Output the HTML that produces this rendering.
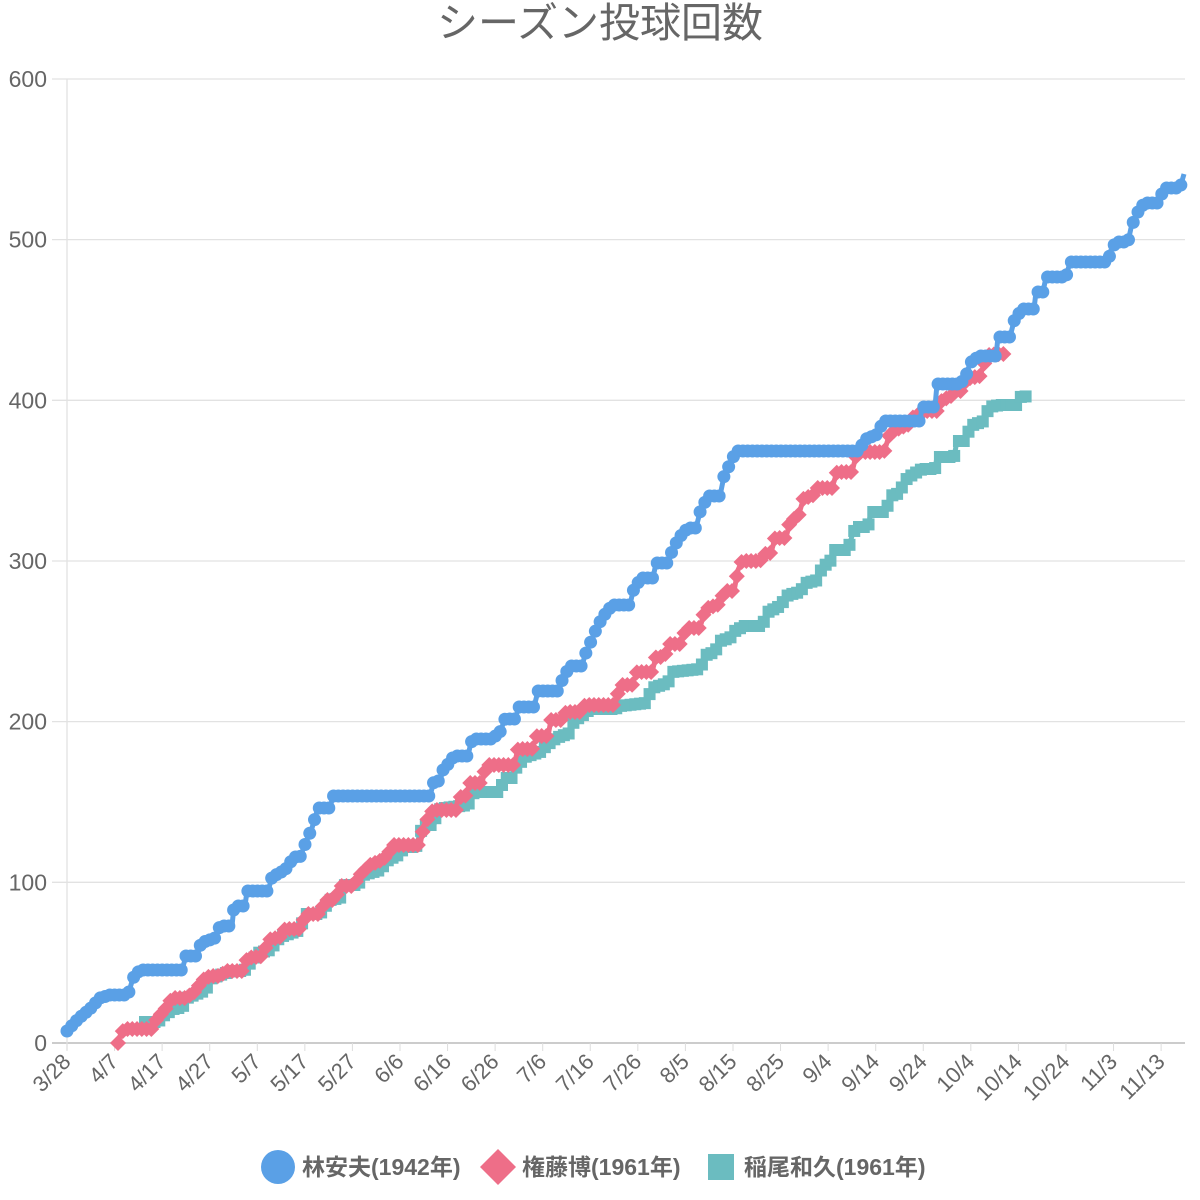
<!DOCTYPE html>
<html><head><meta charset="utf-8">
<style>
html,body{margin:0;padding:0;background:#fff;}
svg{display:block;font-family:"Liberation Sans","Noto Sans CJK JP",sans-serif;}
</style></head>
<body>
<svg id="s" width="1200" height="1200" xmlns="http://www.w3.org/2000/svg">
<text x="600" y="37" text-anchor="middle" font-size="41" fill="#666">シーズン投球回数</text>
<g id="grid"></g>
<g id="teal"></g><g id="pink"></g><g id="blue"></g>
<g font-size="23" font-weight="bold" fill="#666">
<circle cx="278" cy="1167" r="17" fill="#5aa0e6"/>
<text x="302" y="1175">林安夫(1942年)</text>
<polygon points="498,1149 516,1167 498,1185 480,1167" fill="#ee6e88"/>
<text x="522" y="1175">権藤博(1961年)</text>
<rect x="708" y="1154" width="26" height="26" fill="#6bbcc0"/>
<text x="744" y="1175">稲尾和久(1961年)</text>
</g>
</svg>
<script>
var NS="http://www.w3.org/2000/svg";
function el(t,a,p){var e=document.createElementNS(NS,t);for(var k in a)e.setAttribute(k,a[k]);if(p)p.appendChild(e);return e;}
var g=document.getElementById('grid');
for(var i=0;i<=6;i++){var y=1043-i*160.67;
el('line',{x1:52,x2:1185,y1:y,y2:y,stroke:i==0?'#ccc':'#e2e2e2','stroke-width':i==0?2:1.3},g);
var t=el('text',{x:47,y:y+8,'text-anchor':'end','font-size':23,fill:'#666'},g);t.textContent=i*100;}
el('line',{x1:67,x2:67,y1:79,y2:1050,stroke:'#e2e2e2','stroke-width':1.3},g);
var labs=["3/28","4/7","4/17","4/27","5/7","5/17","5/27","6/6","6/16","6/26","7/6","7/16","7/26","8/5","8/15","8/25","9/4","9/14","9/24","10/4","10/14","10/24","11/3","11/13"];
labs.forEach(function(l,i){var x=67+i*47.57;
el('line',{x1:x,x2:x,y1:1043,y2:1051,stroke:'#ddd'},g);
var t=el('text',{x:x+5,y:1063,'text-anchor':'end','font-size':22,fill:'#666',transform:'rotate(-45 '+(x+5)+' 1063)'},g);t.textContent=l;});
function parse(s){var a=s.trim().split(/\s+/).map(Number),r=[];for(var i=0;i<a.length;i+=2)r.push([a[i],a[i+1]]);return r;}
var B=parse("67 1031 78 1019 90 1009 100 998 110 995 128 995 133 978 140 970 182 970 186 956 197 956 201 943 215 938 220 926 232 926 234 906 245 906 247 891 268 891 272 877 285 870 294 857 300 857 306 842 312 828 318 808 330 808 333 796 430 796 434 781 440 781 443 770 449 763 454 756 468 756 471 742 476 739 492 739 500 732 505 719 515 719 519 707 534 707 538 691 558 691 563 678 570 666 582 666 585 655 592 639 598 625 607 611 613 605 630 605 633 591 641 578 653 578 656 563 668 563 673 548 682 534 688 528 696 528 700 512 708 496 720 496 724 476 730 464 736 451 858 451 866 439 878 434 883 421 920 421 922 407 935 407 937 384 960 384 966 376 970 363 979 356 996 356 998 337 1010 337 1014 321 1022 309 1034 309 1036 292 1043 292 1046 277 1066 277 1070 262 1108 262 1111 250 1116 242 1128 242 1131 228 1135 218 1140 208 1145 203 1160 203 1163 188 1180 188 1184 174");
var P=parse("118 1043 120 1036 124 1029 152 1029 158 1016 163 1013 172 998 186 998 197 990 201 981 210 976 220 976 226 971 244 971 247 958 263 956 268 940 280 937 285 929 300 929 306 914 320 914 325 900 335 900 340 886 354 886 358 877 370 865 382 860 388 855 392 845 420 845 424 825 433 810 456 810 458 797 465 797 470 783 482 783 486 765 514 765 518 749 532 749 537 736 548 736 551 720 561 720 566 712 580 712 585 705 615 705 620 685 632 685 637 672 652 672 656 657 664 657 670 644 681 644 686 628 700 628 705 609 720 604 724 591 734 591 738 570 742 561 760 561 766 553 771 553 775 538 786 538 790 521 798 517 804 497 812 497 817 488 832 488 837 472 852 472 857 452 884 452 890 433 900 428 910 424 912 418 925 411 937 411 942 400 950 397 956 391 963 391 966 379 980 376 984 364 989 355 1000 354 1008 354");
var T=parse("145 1022 158 1022 163 1016 175 1008 182 1008 187 998 206 990 210 979 220 975 232 971 244 971 258 953 270 950 280 937 300 930 305 914 320 914 330 900 340 898 345 885 358 885 363 875 380 870 388 860 398 855 405 847 416 847 420 833 424 825 434 825 437 810 445 808 468 805 474 792 500 792 504 778 513 778 516 768 525 757 540 752 546 746 556 738 570 733 574 721 583 715 590 709 615 709 620 706 646 703 652 688 668 683 672 672 700 669 706 655 715 652 720 641 730 638 735 631 744 626 762 626 768 612 780 606 788 595 800 592 806 583 818 580 822 567 830 562 834 550 848 550 852 536 856 527 868 527 871 512 886 512 890 496 900 493 904 481 912 475 922 469 935 469 937 457 954 457 957 441 966 441 970 426 984 421 989 407 1000 405 1018 405 1020 397 1030 396");
function draw(id,pts,col,shape){var G=document.getElementById(id);
el('polyline',{points:pts.map(function(p){return p.join(',')}).join(' '),fill:'none',stroke:col,'stroke-width':5,'stroke-linejoin':'round'},G);
var x0=pts[0][0],x1=pts[pts.length-1][0];
for(var x=x0;x<=x1+0.1;x+=4.76){var y;for(var i=0;i<pts.length-1;i++){if(x>=pts[i][0]&&x<=pts[i+1][0]){var a=pts[i],b=pts[i+1];y=b[0]==a[0]?b[1]:a[1]+(b[1]-a[1])*(x-a[0])/(b[0]-a[0]);break;}}
if(y===undefined)y=pts[pts.length-1][1];
if(shape=='c')el('circle',{cx:x,cy:y,r:6.5,fill:col},G);
else if(shape=='d')el('polygon',{points:(x)+','+(y-8)+' '+(x+8)+','+y+' '+x+','+(y+8)+' '+(x-8)+','+y,fill:col},G);
else el('rect',{x:x-6,y:y-6,width:12,height:12,fill:col},G);}}
draw('teal',T,'#6bbcc0','s');draw('pink',P,'#ee6e88','d');draw('blue',B,'#5aa0e6','c');
</script>
</body></html>
